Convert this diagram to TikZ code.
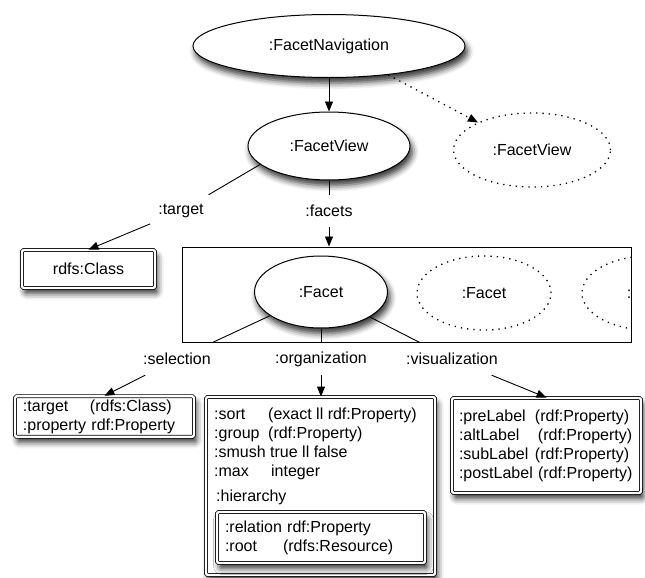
\documentclass[tikz,border=0pt]{standalone}
\usepackage{fontspec}
\setmainfont{Liberation Sans}
\usetikzlibrary{shapes.geometric,arrows.meta,shadows.blur}
\begin{document}
\begin{tikzpicture}[x=1pt,y=-1pt,
  every node/.style={font=\fontsize{16}{19}\selectfont},
  shad/.style={blur shadow={shadow xshift=2.5pt,shadow yshift=-5.5pt,shadow blur radius=6pt,shadow opacity=80}},
  ell/.style={ellipse,draw,line width=1pt,fill=white,inner sep=0pt},
  dotline/.style={line width=1.3pt,dash pattern=on 1.3pt off 5pt},
  dell/.style={ellipse,draw,dotline,inner sep=0pt},
  dbox/.style={rectangle,draw,double,double distance=2.2pt,line width=0.8pt,rounded corners=1.5pt,fill=white,shad},
  lbl/.style={fill=white,inner xsep=8pt,inner ysep=0pt,minimum height=32pt},
  arr/.style={-{Triangle[length=10pt,width=8pt]},line width=0.9pt},
  ln/.style={line width=0.9pt}
]
\useasboundingbox (0,0) rectangle (645,578);

% top ellipses
\node[ell,shad,minimum width=272pt,minimum height=63pt] (FN) at (329,46) {:FacetNavigation};
\node[ell,shad,minimum width=162pt,minimum height=68pt] (FV) at (329,146) {:FacetView};
\node[dell,minimum width=157pt,minimum height=74pt] (FV2) at (532,150) {:FacetView};

% rdfs:Class box
\node[dbox,minimum width=133pt,minimum height=38pt] (cls) at (88.5,269) {rdfs:Class};

% facets container
\node[draw,line width=1pt,inner sep=0pt,minimum width=449pt,minimum height=95pt] (facets) at (406.5,294.5) {};
\node[ell,shad,minimum width=133pt,minimum height=72pt] (F1) at (321,292) {:Facet};
\node[dell,minimum width=134pt,minimum height=74pt] (F2) at (484,293) {:Facet};
\begin{scope}
  \clip (facets.north west) rectangle (facets.south east);
  \node[dell,minimum width=134pt,minimum height=74pt] (F3) at (649,293) {:Facet};
\end{scope}

% boxes
\node[dbox,minimum width=179pt,minimum height=37pt,text width=163pt,inner xsep=8pt,align=left] (selbox) at (104.5,416.5)
  {\makebox[67pt][l]{:target}(rdfs:Class)\\:property rdf:Property};
\node[dbox,minimum width=229pt,minimum height=178pt] (orgbox) at (320.5,486) {};
\node[anchor=north west,inner sep=0pt,align=left] (orgtxt) at (214,408)
  {\makebox[54pt][l]{:sort}(exact ll rdf:Property)\\
   \makebox[54pt][l]{:group}(rdf:Property)\\
   :smush true ll false\\
   \makebox[57pt][l]{:max}integer};
\node[anchor=west,inner sep=0pt] (hlbl) at (216,497) {:hierarchy};
\node[dbox,minimum width=208pt,minimum height=51pt,text width=192pt,inner xsep=8pt,align=left] (hierbox) at (321,537.5)
  {:relation rdf:Property\\\makebox[58pt][l]{:root}(rdfs:Resource)};
\node[dbox,minimum width=189pt,minimum height=95pt,text width=175pt,inner xsep=7pt,align=left] (visbox) at (546.5,445.5)
  {\makebox[76pt][l]{:preLabel}(rdf:Property)\\
   \makebox[79pt][l]{:altLabel}(rdf:Property)\\
   \makebox[76pt][l]{:subLabel}(rdf:Property)\\
   :postLabel (rdf:Property)};

% labels
\node[lbl] (tgt) at (181,211) {:target};
\node[lbl] (fac) at (329,211) {:facets};
\node[lbl] (sel) at (177,359) {:selection};
\node[lbl] (org) at (321,359) {:organization};
\node[lbl] (vis) at (452,359) {:visualization};

% connectors
\draw[arr] (FN) -- (FV);
\draw[arr,dotline] (FN.-26) -- (FV2.153);
\draw[ln] (FV.-165) -- (tgt);
\draw[arr] (tgt) -- (cls.north);
\draw[ln] (FV.south) -- (fac);
\draw[arr] (fac) -- (fac |- facets.north);
\draw[ln] (F1) -- (sel);
\draw[ln] (F1.south) -- (org);
\draw[ln] (F1) -- (vis);
\draw[arr] (sel) -- (selbox.north);
\draw[arr] (org) -- (org |- orgbox.north);
\draw[arr] (vis) -- (visbox.north);
\end{tikzpicture}
\end{document}
